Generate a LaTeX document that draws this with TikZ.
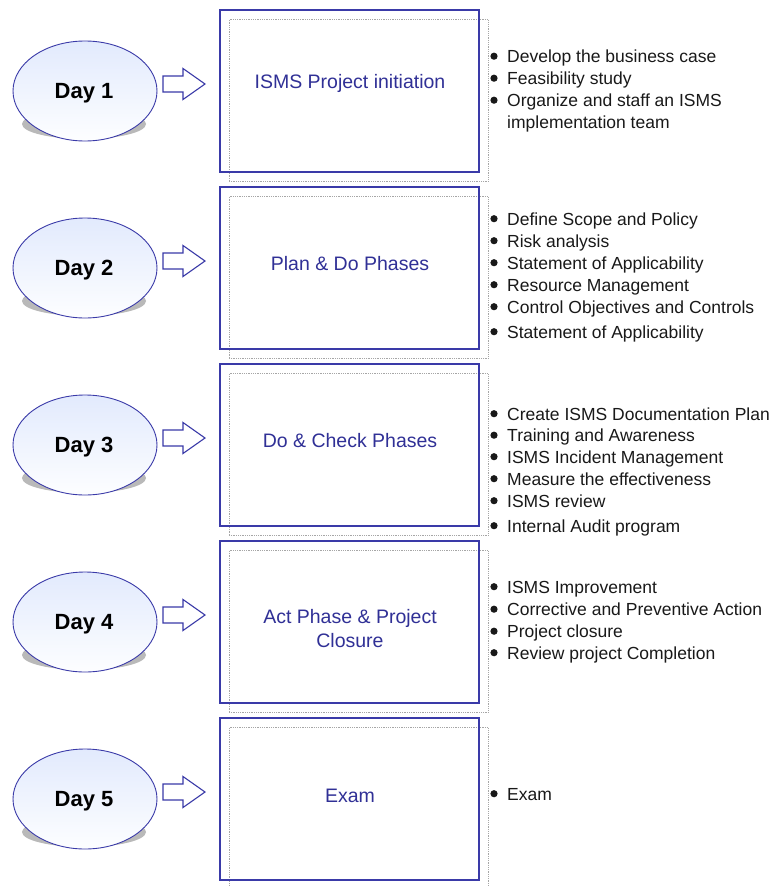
\documentclass[tikz,border=0pt]{standalone}
\usepackage{fontspec}
\setmainfont{Liberation Sans}
\usetikzlibrary{shapes.geometric}
\definecolor{bblue}{RGB}{58,58,168}
\definecolor{tblue}{RGB}{48,48,150}
\definecolor{elltop}{RGB}{226,234,253}
\definecolor{ellbot}{RGB}{253,254,255}
\begin{document}
\begin{tikzpicture}[x=1pt,y=-1pt,
 dayell/.style={ellipse, draw=bblue, line width=0.9pt, top color=elltop, bottom color=ellbot, minimum width=144pt, minimum height=100pt, inner sep=0pt},
 daytext/.style={anchor=base, inner sep=0pt, font=\fontsize{22}{26}\selectfont\bfseries, text=black},
 phasebox/.style={rectangle, draw=bblue, line width=1.3pt, minimum width=259pt, minimum height=162pt, inner sep=0pt},
 ghostbox/.style={rectangle, draw=gray!70, densely dotted, line width=0.8pt, minimum width=259pt, minimum height=162pt, inner sep=0pt},
 phasetext/.style={inner sep=0pt, text=tblue, font=\fontsize{19.5}{24}\selectfont, align=center},
 bul/.style={anchor=base west, inner sep=0pt, font=\fontsize{17.5}{22}\selectfont, text=black!90},
 bulletdot/.style={fill=black!90},
 blockarrow/.style={draw=bblue, line width=1.1pt, fill=white, line join=miter},
 shadowell/.style={fill=gray!55}
]
\useasboundingbox (0,0) rectangle (770,886);
\clip (0,0) rectangle (770,886);
\fill[white] (0,0) rectangle (770,886);

\foreach \k in {0,...,4}{
  \pgfmathsetmacro{\cy}{91+177*\k}
  % shadow and day ellipse
  \fill[shadowell] (84,\cy+33) ellipse [x radius=62pt, y radius=15pt];
  \node[dayell] (day\k) at (85,\cy) {};
  % block arrow
  \coordinate (arr\k) at (184,\cy-7);
  \draw[blockarrow] ([xshift=-21pt,yshift=8pt]arr\k) -- ([xshift=-1pt,yshift=8pt]arr\k)
     -- ([xshift=-1pt,yshift=15.5pt]arr\k) -- ([xshift=21pt]arr\k)
     -- ([xshift=-1pt,yshift=-15.5pt]arr\k) -- ([xshift=-1pt,yshift=-8pt]arr\k)
     -- ([xshift=-21pt,yshift=-8pt]arr\k) -- cycle;
  % boxes
  \node[ghostbox] (ghost\k) at (358.5,\cy+9.5) {};
  \node[phasebox] (box\k) at (349.5,\cy) {};
}

\node[daytext] (dt1) at (84,98) {Day 1};
\node[daytext] (dt2) at (84,275) {Day 2};
\node[daytext] (dt3) at (84,452) {Day 3};
\node[daytext] (dt4) at (84,629) {Day 4};
\node[daytext] (dt5) at (84,806) {Day 5};

\node[phasetext, anchor=base] (pt1) at (350,88) {ISMS Project initiation};
\node[phasetext, anchor=base] (pt2) at (350,270) {Plan \& Do Phases};
\node[phasetext, anchor=base] (pt3) at (350,447) {Do \& Check Phases};
\node[phasetext, anchor=center] (pt4) at (350,629) {Act Phase \& Project\\Closure};
\node[phasetext, anchor=base] (pt5) at (350,802) {Exam};

% bullet dots
\foreach \y in {62.5,84.5,106.5,225,247,269,291,313,338,420,441.5,463,485,507,532,593,615.5,637.5,659,800}
  \fill[bulletdot] (494,\y-6.3) circle (3.6pt);

% Day 1 list
\node[bul] (a1) at (507,62.5) {Develop the business case};
\node[bul] (a2) at (507,84.5) {Feasibility study};
\node[bul] (a3) at (507,106.5) {Organize and staff an ISMS};
\node[bul] (a4) at (507,128.5) {implementation team};
% Day 2 list
\node[bul] (b1) at (507,225) {Define Scope and Policy};
\node[bul] (b2) at (507,247) {Risk analysis};
\node[bul] (b3) at (507,269) {Statement of Applicability};
\node[bul] (b4) at (507,291) {Resource Management};
\node[bul] (b5) at (507,313) {Control Objectives and Controls};
\node[bul] (b6) at (507,338) {Statement of Applicability};
% Day 3 list
\node[bul] (c1) at (507,420) {Create ISMS Documentation Plan};
\node[bul] (c2) at (507,441.5) {Training and Awareness};
\node[bul] (c3) at (507,463) {ISMS Incident Management};
\node[bul] (c4) at (507,485) {Measure the effectiveness};
\node[bul] (c5) at (507,507) {ISMS review};
\node[bul] (c6) at (507,532) {Internal Audit program};
% Day 4 list
\node[bul] (d1) at (507,593) {ISMS Improvement};
\node[bul] (d2) at (507,615.5) {Corrective and Preventive Action};
\node[bul] (d3) at (507,637.5) {Project closure};
\node[bul] (d4) at (507,659) {Review project Completion};
% Day 5 list
\node[bul] (e1) at (507,800) {Exam};
\end{tikzpicture}
\end{document}
